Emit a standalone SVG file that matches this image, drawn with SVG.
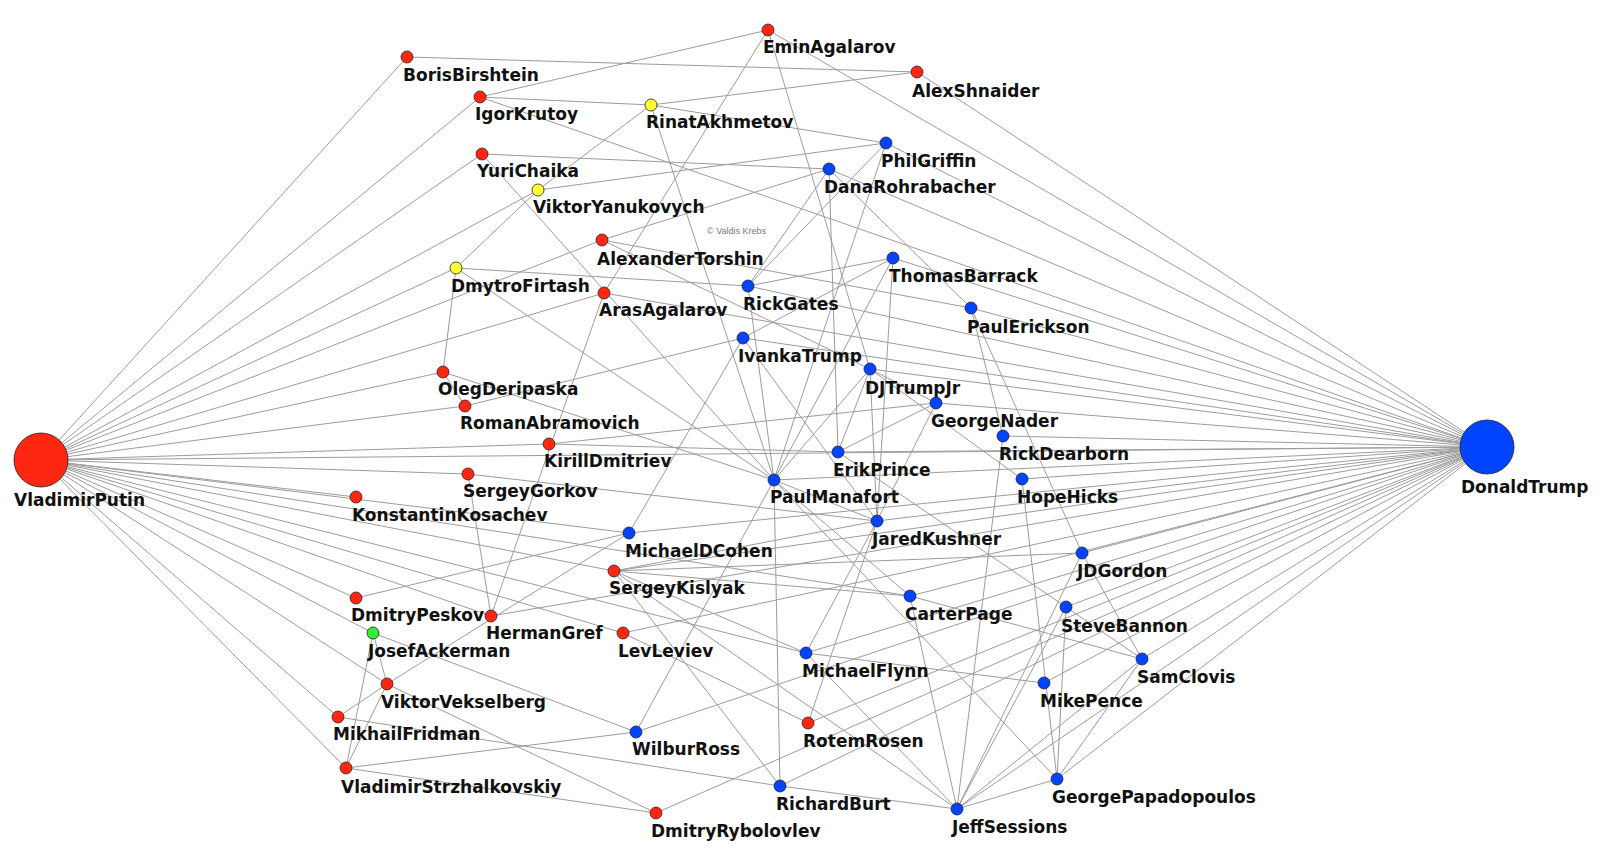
<svg xmlns="http://www.w3.org/2000/svg" width="1600" height="855" viewBox="0 0 1600 855">
<style>
.e line{stroke:#9c9c9c;stroke-width:1;fill:none}
.n circle{stroke:#222;stroke-width:0.8}
.r{fill:#ff2612}.b{fill:#0044ff}.y{fill:#ffff33}.g{fill:#33ee33}
.n text{font-family:"DejaVu Sans","Liberation Sans",sans-serif;font-weight:bold;font-size:17px;fill:#111}
.cr{font-family:"Liberation Sans",Arial,sans-serif;font-size:9px;fill:#777}
</style>
<rect width="1600" height="855" fill="#fff"/>
<g id="connectors" class="e">
<line x1="41" y1="460" x2="407" y2="57"/>
<line x1="41" y1="460" x2="480" y2="97"/>
<line x1="41" y1="460" x2="482" y2="154"/>
<line x1="41" y1="460" x2="538" y2="190"/>
<line x1="41" y1="460" x2="456" y2="268"/>
<line x1="41" y1="460" x2="602" y2="240"/>
<line x1="41" y1="460" x2="604" y2="293"/>
<line x1="41" y1="460" x2="443" y2="372"/>
<line x1="41" y1="460" x2="465" y2="406"/>
<line x1="41" y1="460" x2="549" y2="444"/>
<line x1="41" y1="460" x2="468" y2="474"/>
<line x1="41" y1="460" x2="356" y2="497"/>
<line x1="41" y1="460" x2="356" y2="598"/>
<line x1="41" y1="460" x2="373" y2="633"/>
<line x1="41" y1="460" x2="387" y2="684"/>
<line x1="41" y1="460" x2="338" y2="717"/>
<line x1="41" y1="460" x2="346" y2="768"/>
<line x1="41" y1="460" x2="491" y2="616"/>
<line x1="41" y1="460" x2="614" y2="571"/>
<line x1="41" y1="460" x2="623" y2="633"/>
<line x1="41" y1="460" x2="806" y2="653"/>
<line x1="41" y1="460" x2="910" y2="596"/>
<line x1="41" y1="460" x2="629" y2="533"/>
<line x1="41" y1="460" x2="1487" y2="447"/>
<line x1="1487" y1="447" x2="886" y2="143"/>
<line x1="1487" y1="447" x2="829" y2="169"/>
<line x1="1487" y1="447" x2="893" y2="258"/>
<line x1="1487" y1="447" x2="748" y2="286"/>
<line x1="1487" y1="447" x2="971" y2="308"/>
<line x1="1487" y1="447" x2="743" y2="338"/>
<line x1="1487" y1="447" x2="870" y2="369"/>
<line x1="1487" y1="447" x2="936" y2="403"/>
<line x1="1487" y1="447" x2="1003" y2="436"/>
<line x1="1487" y1="447" x2="838" y2="452"/>
<line x1="1487" y1="447" x2="774" y2="480"/>
<line x1="1487" y1="447" x2="1022" y2="479"/>
<line x1="1487" y1="447" x2="877" y2="521"/>
<line x1="1487" y1="447" x2="629" y2="533"/>
<line x1="1487" y1="447" x2="1082" y2="553"/>
<line x1="1487" y1="447" x2="910" y2="596"/>
<line x1="1487" y1="447" x2="1066" y2="607"/>
<line x1="1487" y1="447" x2="806" y2="653"/>
<line x1="1487" y1="447" x2="1142" y2="659"/>
<line x1="1487" y1="447" x2="1044" y2="683"/>
<line x1="1487" y1="447" x2="636" y2="732"/>
<line x1="1487" y1="447" x2="780" y2="786"/>
<line x1="1487" y1="447" x2="1057" y2="779"/>
<line x1="1487" y1="447" x2="957" y2="809"/>
<line x1="1487" y1="447" x2="768" y2="30"/>
<line x1="1487" y1="447" x2="917" y2="72"/>
<line x1="1487" y1="447" x2="480" y2="97"/>
<line x1="1487" y1="447" x2="604" y2="293"/>
<line x1="1487" y1="447" x2="656" y2="813"/>
<line x1="1487" y1="447" x2="808" y2="723"/>
<line x1="1487" y1="447" x2="623" y2="633"/>
<line x1="1487" y1="447" x2="491" y2="616"/>
<line x1="1487" y1="447" x2="614" y2="571"/>
<line x1="407" y1="57" x2="917" y2="72"/>
<line x1="768" y1="30" x2="480" y2="97"/>
<line x1="768" y1="30" x2="604" y2="293"/>
<line x1="768" y1="30" x2="870" y2="369"/>
<line x1="480" y1="97" x2="651" y2="105"/>
<line x1="651" y1="105" x2="917" y2="72"/>
<line x1="651" y1="105" x2="886" y2="143"/>
<line x1="651" y1="105" x2="538" y2="190"/>
<line x1="651" y1="105" x2="774" y2="480"/>
<line x1="482" y1="154" x2="829" y2="169"/>
<line x1="482" y1="154" x2="774" y2="480"/>
<line x1="538" y1="190" x2="456" y2="268"/>
<line x1="538" y1="190" x2="886" y2="143"/>
<line x1="456" y1="268" x2="443" y2="372"/>
<line x1="456" y1="268" x2="774" y2="480"/>
<line x1="456" y1="268" x2="748" y2="286"/>
<line x1="602" y1="240" x2="829" y2="169"/>
<line x1="602" y1="240" x2="870" y2="369"/>
<line x1="602" y1="240" x2="971" y2="308"/>
<line x1="604" y1="293" x2="491" y2="616"/>
<line x1="443" y1="372" x2="465" y2="406"/>
<line x1="443" y1="372" x2="774" y2="480"/>
<line x1="465" y1="406" x2="743" y2="338"/>
<line x1="549" y1="444" x2="936" y2="403"/>
<line x1="549" y1="444" x2="838" y2="452"/>
<line x1="468" y1="474" x2="877" y2="521"/>
<line x1="468" y1="474" x2="491" y2="616"/>
<line x1="629" y1="533" x2="356" y2="598"/>
<line x1="629" y1="533" x2="387" y2="684"/>
<line x1="629" y1="533" x2="743" y2="338"/>
<line x1="636" y1="732" x2="373" y2="633"/>
<line x1="636" y1="732" x2="346" y2="768"/>
<line x1="636" y1="732" x2="774" y2="480"/>
<line x1="656" y1="813" x2="346" y2="768"/>
<line x1="656" y1="813" x2="387" y2="684"/>
<line x1="373" y1="633" x2="387" y2="684"/>
<line x1="373" y1="633" x2="346" y2="768"/>
<line x1="387" y1="684" x2="346" y2="768"/>
<line x1="387" y1="684" x2="338" y2="717"/>
<line x1="780" y1="786" x2="338" y2="717"/>
<line x1="780" y1="786" x2="774" y2="480"/>
<line x1="780" y1="786" x2="957" y2="809"/>
<line x1="808" y1="723" x2="623" y2="633"/>
<line x1="808" y1="723" x2="877" y2="521"/>
<line x1="774" y1="480" x2="748" y2="286"/>
<line x1="774" y1="480" x2="893" y2="258"/>
<line x1="774" y1="480" x2="886" y2="143"/>
<line x1="774" y1="480" x2="870" y2="369"/>
<line x1="774" y1="480" x2="877" y2="521"/>
<line x1="774" y1="480" x2="910" y2="596"/>
<line x1="774" y1="480" x2="1057" y2="779"/>
<line x1="886" y1="143" x2="748" y2="286"/>
<line x1="829" y1="169" x2="748" y2="286"/>
<line x1="893" y1="258" x2="748" y2="286"/>
<line x1="893" y1="258" x2="743" y2="338"/>
<line x1="829" y1="169" x2="838" y2="452"/>
<line x1="893" y1="258" x2="877" y2="521"/>
<line x1="877" y1="521" x2="743" y2="338"/>
<line x1="877" y1="521" x2="614" y2="571"/>
<line x1="877" y1="521" x2="806" y2="653"/>
<line x1="877" y1="521" x2="870" y2="369"/>
<line x1="877" y1="521" x2="936" y2="403"/>
<line x1="870" y1="369" x2="936" y2="403"/>
<line x1="870" y1="369" x2="838" y2="452"/>
<line x1="870" y1="369" x2="1022" y2="479"/>
<line x1="936" y1="403" x2="838" y2="452"/>
<line x1="614" y1="571" x2="806" y2="653"/>
<line x1="614" y1="571" x2="957" y2="809"/>
<line x1="614" y1="571" x2="910" y2="596"/>
<line x1="614" y1="571" x2="1082" y2="553"/>
<line x1="614" y1="571" x2="780" y2="786"/>
<line x1="957" y1="809" x2="1082" y2="553"/>
<line x1="957" y1="809" x2="1057" y2="779"/>
<line x1="957" y1="809" x2="910" y2="596"/>
<line x1="957" y1="809" x2="1142" y2="659"/>
<line x1="957" y1="809" x2="1003" y2="436"/>
<line x1="957" y1="809" x2="1066" y2="607"/>
<line x1="957" y1="809" x2="806" y2="653"/>
<line x1="1057" y1="779" x2="1142" y2="659"/>
<line x1="1057" y1="779" x2="1022" y2="479"/>
<line x1="1057" y1="779" x2="1066" y2="607"/>
<line x1="1082" y1="553" x2="1142" y2="659"/>
<line x1="1142" y1="659" x2="910" y2="596"/>
<line x1="1142" y1="659" x2="1066" y2="607"/>
<line x1="1044" y1="683" x2="806" y2="653"/>
<line x1="971" y1="308" x2="1082" y2="553"/>
<line x1="971" y1="308" x2="1003" y2="436"/>
<line x1="829" y1="169" x2="971" y2="308"/>
<line x1="1066" y1="607" x2="838" y2="452"/>
</g>
<g id="VladimirPutin" class="n"><circle class="r" cx="41" cy="460" r="27"/><text x="14" y="506">VladimirPutin</text></g>
<g id="DonaldTrump" class="n"><circle class="b" cx="1487" cy="447" r="27"/><text x="1461" y="493">DonaldTrump</text></g>
<g id="BorisBirshtein" class="n"><circle class="r" cx="407" cy="57" r="6"/><text x="403" y="81">BorisBirshtein</text></g>
<g id="EminAgalarov" class="n"><circle class="r" cx="768" cy="30" r="6"/><text x="763" y="53">EminAgalarov</text></g>
<g id="AlexShnaider" class="n"><circle class="r" cx="917" cy="72" r="6"/><text x="912" y="97">AlexShnaider</text></g>
<g id="IgorKrutoy" class="n"><circle class="r" cx="480" cy="97" r="6"/><text x="475" y="120">IgorKrutoy</text></g>
<g id="RinatAkhmetov" class="n"><circle class="y" cx="651" cy="105" r="6"/><text x="646" y="128">RinatAkhmetov</text></g>
<g id="PhilGriffin" class="n"><circle class="b" cx="886" cy="143" r="6"/><text x="881" y="167">PhilGriffin</text></g>
<g id="YuriChaika" class="n"><circle class="r" cx="482" cy="154" r="6"/><text x="477" y="177">YuriChaika</text></g>
<g id="DanaRohrabacher" class="n"><circle class="b" cx="829" cy="169" r="6"/><text x="824" y="193">DanaRohrabacher</text></g>
<g id="ViktorYanukovych" class="n"><circle class="y" cx="538" cy="190" r="6"/><text x="533" y="213">ViktorYanukovych</text></g>
<g id="AlexanderTorshin" class="n"><circle class="r" cx="602" cy="240" r="6"/><text x="597" y="265">AlexanderTorshin</text></g>
<g id="ThomasBarrack" class="n"><circle class="b" cx="893" cy="258" r="6"/><text x="889" y="282">ThomasBarrack</text></g>
<g id="DmytroFirtash" class="n"><circle class="y" cx="456" cy="268" r="6"/><text x="451" y="292">DmytroFirtash</text></g>
<g id="RickGates" class="n"><circle class="b" cx="748" cy="286" r="6"/><text x="743" y="310">RickGates</text></g>
<g id="ArasAgalarov" class="n"><circle class="r" cx="604" cy="293" r="6"/><text x="599" y="316">ArasAgalarov</text></g>
<g id="PaulErickson" class="n"><circle class="b" cx="971" cy="308" r="6"/><text x="967" y="333">PaulErickson</text></g>
<g id="IvankaTrump" class="n"><circle class="b" cx="743" cy="338" r="6"/><text x="738" y="362">IvankaTrump</text></g>
<g id="DJTrumpJr" class="n"><circle class="b" cx="870" cy="369" r="6"/><text x="865" y="394">DJTrumpJr</text></g>
<g id="OlegDeripaska" class="n"><circle class="r" cx="443" cy="372" r="6"/><text x="438" y="395">OlegDeripaska</text></g>
<g id="GeorgeNader" class="n"><circle class="b" cx="936" cy="403" r="6"/><text x="931" y="427">GeorgeNader</text></g>
<g id="RomanAbramovich" class="n"><circle class="r" cx="465" cy="406" r="6"/><text x="460" y="429">RomanAbramovich</text></g>
<g id="RickDearborn" class="n"><circle class="b" cx="1003" cy="436" r="6"/><text x="999" y="460">RickDearborn</text></g>
<g id="KirillDmitriev" class="n"><circle class="r" cx="549" cy="444" r="6"/><text x="544" y="467">KirillDmitriev</text></g>
<g id="ErikPrince" class="n"><circle class="b" cx="838" cy="452" r="6"/><text x="833" y="476">ErikPrince</text></g>
<g id="SergeyGorkov" class="n"><circle class="r" cx="468" cy="474" r="6"/><text x="463" y="497">SergeyGorkov</text></g>
<g id="PaulManafort" class="n"><circle class="b" cx="774" cy="480" r="6"/><text x="770" y="503">PaulManafort</text></g>
<g id="HopeHicks" class="n"><circle class="b" cx="1022" cy="479" r="6"/><text x="1017" y="503">HopeHicks</text></g>
<g id="KonstantinKosachev" class="n"><circle class="r" cx="356" cy="497" r="6"/><text x="352" y="521">KonstantinKosachev</text></g>
<g id="JaredKushner" class="n"><circle class="b" cx="877" cy="521" r="6"/><text x="872" y="545">JaredKushner</text></g>
<g id="MichaelDCohen" class="n"><circle class="b" cx="629" cy="533" r="6"/><text x="625" y="557">MichaelDCohen</text></g>
<g id="JDGordon" class="n"><circle class="b" cx="1082" cy="553" r="6"/><text x="1077" y="577">JDGordon</text></g>
<g id="SergeyKislyak" class="n"><circle class="r" cx="614" cy="571" r="6"/><text x="609" y="594">SergeyKislyak</text></g>
<g id="CarterPage" class="n"><circle class="b" cx="910" cy="596" r="6"/><text x="905" y="620">CarterPage</text></g>
<g id="DmitryPeskov" class="n"><circle class="r" cx="356" cy="598" r="6"/><text x="351" y="621">DmitryPeskov</text></g>
<g id="SteveBannon" class="n"><circle class="b" cx="1066" cy="607" r="6"/><text x="1061" y="632">SteveBannon</text></g>
<g id="HermanGref" class="n"><circle class="r" cx="491" cy="616" r="6"/><text x="486" y="639">HermanGref</text></g>
<g id="JosefAckerman" class="n"><circle class="g" cx="373" cy="633" r="6"/><text x="368" y="657">JosefAckerman</text></g>
<g id="LevLeviev" class="n"><circle class="r" cx="623" cy="633" r="6"/><text x="618" y="657">LevLeviev</text></g>
<g id="MichaelFlynn" class="n"><circle class="b" cx="806" cy="653" r="6"/><text x="802" y="677">MichaelFlynn</text></g>
<g id="SamClovis" class="n"><circle class="b" cx="1142" cy="659" r="6"/><text x="1137" y="683">SamClovis</text></g>
<g id="ViktorVekselberg" class="n"><circle class="r" cx="387" cy="684" r="6"/><text x="381" y="708">ViktorVekselberg</text></g>
<g id="MikePence" class="n"><circle class="b" cx="1044" cy="683" r="6"/><text x="1040" y="707">MikePence</text></g>
<g id="MikhailFridman" class="n"><circle class="r" cx="338" cy="717" r="6"/><text x="333" y="740">MikhailFridman</text></g>
<g id="RotemRosen" class="n"><circle class="r" cx="808" cy="723" r="6"/><text x="803" y="747">RotemRosen</text></g>
<g id="WilburRoss" class="n"><circle class="b" cx="636" cy="732" r="6"/><text x="632" y="755">WilburRoss</text></g>
<g id="VladimirStrzhalkovskiy" class="n"><circle class="r" cx="346" cy="768" r="6"/><text x="341" y="793">VladimirStrzhalkovskiy</text></g>
<g id="RichardBurt" class="n"><circle class="b" cx="780" cy="786" r="6"/><text x="776" y="810">RichardBurt</text></g>
<g id="GeorgePapadopoulos" class="n"><circle class="b" cx="1057" cy="779" r="6"/><text x="1052" y="803">GeorgePapadopoulos</text></g>
<g id="DmitryRybolovlev" class="n"><circle class="r" cx="656" cy="813" r="6"/><text x="651" y="837">DmitryRybolovlev</text></g>
<g id="JeffSessions" class="n"><circle class="b" cx="957" cy="809" r="6"/><text x="952" y="833">JeffSessions</text></g>
<text class="cr" x="707" y="234">© Valdis Krebs</text>
</svg>
